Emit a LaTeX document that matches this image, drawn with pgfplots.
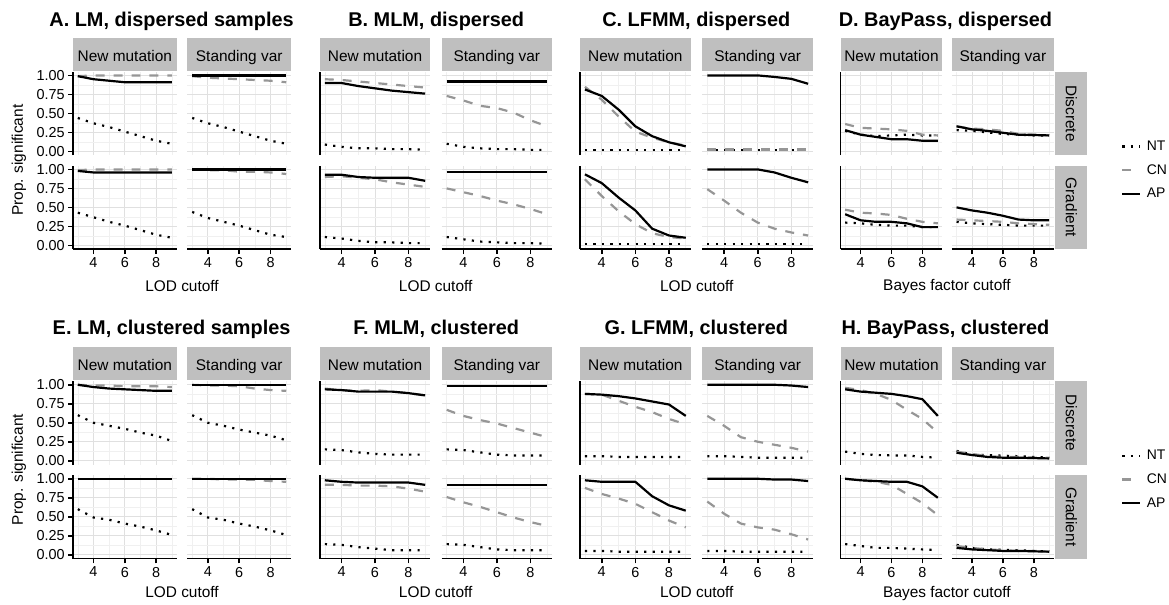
\documentclass[border=0pt]{standalone}
\usepackage{pgfplots}
\pgfplotsset{compat=1.18}
\usepackage{pgfplotstable}
\usepackage{fontspec}
\setmainfont{Liberation Sans}
\definecolor{stripgray}{RGB}{191,191,191}
\definecolor{gridmaj}{RGB}{224,224,224}
\definecolor{gridmin}{RGB}{240,240,240}
\definecolor{cngray}{RGB}{150,150,150}
\newcommand{\fs}[1]{\fontsize{#1}{#1}\selectfont}

% ---------- data: x, NT, CN, AP ----------
% A. LM, dispersed
\pgfplotstableread{
x nt cn ap
3 0.44 0.99 0.99
4 0.37 1 0.95
5 0.32 1 0.93
6 0.26 1 0.91
7 0.20 1 0.91
8 0.14 1 0.91
9 0.10 1 0.91
}\ADN
\pgfplotstableread{
x nt cn ap
3 0.44 0.99 1
4 0.37 0.97 1
5 0.32 0.96 1
6 0.26 0.95 1
7 0.20 0.94 1
8 0.14 0.93 1
9 0.10 0.91 1
}\ADS
\pgfplotstableread{
x nt cn ap
3 0.43 0.99 0.98
4 0.37 1 0.96
5 0.31 1 0.96
6 0.26 1 0.96
7 0.20 1 0.96
8 0.14 1 0.96
9 0.10 1 0.96
}\AGN
\pgfplotstableread{
x nt cn ap
3 0.44 1 1
4 0.36 0.99 1
5 0.31 0.99 1
6 0.26 0.97 1
7 0.20 0.97 1
8 0.14 0.96 1
9 0.11 0.94 1
}\AGS
% B. MLM, dispersed
\pgfplotstableread{
x nt cn ap
3 0.09 0.95 0.90
4 0.06 0.94 0.90
5 0.04 0.92 0.86
6 0.04 0.90 0.83
7 0.03 0.88 0.80
8 0.03 0.86 0.78
9 0.02 0.84 0.76
}\BDN
\pgfplotstableread{
x nt cn ap
3 0.10 0.73 0.92
4 0.06 0.67 0.92
5 0.04 0.60 0.92
6 0.03 0.57 0.92
7 0.03 0.51 0.92
8 0.02 0.41 0.92
9 0.02 0.33 0.92
}\BDS
\pgfplotstableread{
x nt cn ap
3 0.11 0.90 0.93
4 0.09 0.91 0.93
5 0.06 0.89 0.90
6 0.04 0.87 0.89
7 0.04 0.83 0.89
8 0.03 0.80 0.89
9 0.03 0.77 0.85
}\BGN
\pgfplotstableread{
x nt cn ap
3 0.11 0.75 0.97
4 0.08 0.70 0.97
5 0.05 0.65 0.97
6 0.04 0.59 0.97
7 0.03 0.54 0.97
8 0.03 0.48 0.97
9 0.02 0.41 0.97
}\BGS
% C. LFMM, dispersed
\pgfplotstableread{
x nt cn ap
3 0.02 0.85 0.815
4 0.02 0.68 0.73
5 0.02 0.46 0.55
6 0.02 0.26 0.33
7 0.02 0.18 0.20
8 0.02 0.12 0.12
9 0.02 0.075 0.066
}\CDN
\pgfplotstableread{
x nt cn ap
3 0.015 0.025 1
4 0.015 0.025 1
5 0.015 0.025 1
6 0.015 0.025 1
7 0.015 0.025 0.98
8 0.015 0.025 0.955
9 0.015 0.025 0.89
}\CDS
\pgfplotstableread{
x nt cn ap
3 0.02 0.87 0.935
4 0.02 0.65 0.82
5 0.02 0.45 0.63
6 0.02 0.28 0.46
7 0.02 0.16 0.22
8 0.02 0.11 0.13
9 0.02 0.09 0.10
}\CGN
\pgfplotstableread{
x nt cn ap
3 0.02 0.74 1
4 0.02 0.59 1
5 0.02 0.43 1
6 0.02 0.30 1
7 0.02 0.22 0.96
8 0.02 0.17 0.89
9 0.02 0.13 0.83
}\CGS
% D. BayPass, dispersed
\pgfplotstableread{
x nt cn ap
3 0.27 0.36 0.28
4 0.22 0.31 0.22
5 0.20 0.30 0.19
6 0.21 0.29 0.16
7 0.22 0.27 0.16
8 0.21 0.22 0.14
9 0.21 0.21 0.14
}\DDN
\pgfplotstableread{
x nt cn ap
3 0.28 0.33 0.33
4 0.27 0.30 0.29
5 0.25 0.29 0.27
6 0.23 0.27 0.245
7 0.22 0.23 0.22
8 0.21 0.22 0.215
9 0.21 0.21 0.21
}\DDS
\pgfplotstableread{
x nt cn ap
3 0.30 0.47 0.41
4 0.29 0.43 0.33
5 0.27 0.42 0.31
6 0.26 0.40 0.31
7 0.26 0.35 0.29
8 0.24 0.31 0.24
9 0.24 0.29 0.24
}\DGN
\pgfplotstableread{
x nt cn ap
3 0.31 0.34 0.50
4 0.29 0.33 0.46
5 0.28 0.32 0.43
6 0.27 0.31 0.39
7 0.26 0.29 0.34
8 0.26 0.28 0.33
9 0.26 0.27 0.33
}\DGS
% E. LM, clustered
\pgfplotstableread{
x nt cn ap
3 0.60 1 1
4 0.50 0.99 0.97
5 0.46 0.99 0.95
6 0.42 0.98 0.94
7 0.37 0.98 0.93
8 0.33 0.98 0.92
9 0.26 0.97 0.92
}\EDN
\pgfplotstableread{
x nt cn ap
3 0.60 1 1
4 0.50 0.99 1
5 0.46 0.99 1
6 0.41 0.98 1
7 0.37 0.95 1
8 0.33 0.93 1
9 0.27 0.92 1
}\EDS
\pgfplotstableread{
x nt cn ap
3 0.60 1 1
4 0.49 1 1
5 0.46 1 1
6 0.41 1 1
7 0.37 1 1
8 0.32 1 1
9 0.26 1 1
}\EGN
\pgfplotstableread{
x nt cn ap
3 0.60 1 1
4 0.49 1 1
5 0.46 0.99 1
6 0.41 0.99 1
7 0.37 0.985 1
8 0.32 0.97 1
9 0.26 0.96 1
}\EGS
% F. MLM, clustered
\pgfplotstableread{
x nt cn ap
3 0.15 0.95 0.94
4 0.14 0.93 0.93
5 0.11 0.92 0.91
6 0.09 0.93 0.91
7 0.08 0.91 0.91
8 0.08 0.89 0.89
9 0.08 0.86 0.86
}\FDN
\pgfplotstableread{
x nt cn ap
3 0.15 0.67 0.98
4 0.14 0.59 0.98
5 0.11 0.535 0.98
6 0.08 0.49 0.98
7 0.07 0.43 0.98
8 0.07 0.37 0.98
9 0.07 0.31 0.98
}\FDS
\pgfplotstableread{
x nt cn ap
3 0.14 0.92 0.98
4 0.13 0.92 0.96
5 0.10 0.91 0.95
6 0.08 0.91 0.95
7 0.06 0.90 0.95
8 0.06 0.87 0.95
9 0.06 0.83 0.92
}\FGN
\pgfplotstableread{
x nt cn ap
3 0.14 0.76 0.92
4 0.13 0.69 0.92
5 0.10 0.63 0.92
6 0.07 0.56 0.92
7 0.06 0.49 0.92
8 0.06 0.43 0.92
9 0.06 0.38 0.92
}\FGS
% G. LFMM, clustered
\pgfplotstableread{
x nt cn ap
3 0.06 0.88 0.88
4 0.06 0.87 0.87
5 0.05 0.79 0.85
6 0.05 0.71 0.82
7 0.05 0.64 0.78
8 0.05 0.55 0.74
9 0.05 0.48 0.59
}\GDN
\pgfplotstableread{
x nt cn ap
3 0.06 0.59 1
4 0.06 0.46 1
5 0.05 0.31 1
6 0.04 0.25 1
7 0.04 0.21 1
8 0.04 0.17 0.99
9 0.04 0.12 0.97
}\GDS
\pgfplotstableread{
x nt cn ap
3 0.05 0.88 0.98
4 0.05 0.80 0.96
5 0.04 0.74 0.96
6 0.04 0.67 0.96
7 0.04 0.56 0.77
8 0.04 0.45 0.65
9 0.04 0.36 0.58
}\GGN
\pgfplotstableread{
x nt cn ap
3 0.05 0.70 1
4 0.05 0.54 1
5 0.04 0.41 1
6 0.04 0.36 1
7 0.04 0.33 0.99
8 0.04 0.27 0.99
9 0.04 0.20 0.97
}\GGS
% H. BayPass, clustered
\pgfplotstableread{
x nt cn ap
3 0.12 0.96 0.94
4 0.09 0.93 0.91
5 0.075 0.88 0.895
6 0.07 0.80 0.88
7 0.07 0.67 0.85
8 0.05 0.55 0.81
9 0.04 0.37 0.59
}\HDN
\pgfplotstableread{
x nt cn ap
3 0.13 0.12 0.105
4 0.08 0.09 0.075
5 0.075 0.06 0.05
6 0.066 0.05 0.04
7 0.06 0.05 0.04
8 0.05 0.04 0.035
9 0.04 0.04 0.03
}\HDS
\pgfplotstableread{
x nt cn ap
3 0.14 1 1
4 0.115 0.98 0.98
5 0.09 0.96 0.97
6 0.09 0.92 0.96
7 0.08 0.80 0.96
8 0.07 0.68 0.90
9 0.06 0.52 0.75
}\HGN
\pgfplotstableread{
x nt cn ap
3 0.13 0.115 0.09
4 0.09 0.09 0.07
5 0.07 0.07 0.06
6 0.065 0.06 0.05
7 0.06 0.05 0.05
8 0.05 0.05 0.045
9 0.045 0.04 0.04
}\HGS

\pgfplotsset{
  nt/.style={black, line width=2.2pt, dash pattern=on 2.2pt off 6.3pt},
  cn/.style={cngray, line width=2.2pt, dash pattern=on 9pt off 9pt},
  ap/.style={black, line width=2.2pt, line join=round},
  facet/.style={scale only axis, height=84pt, anchor=north west,
    xmin=2.7, xmax=9.3, ymin=-0.05, ymax=1.05,
    xtick={4,6,8}, minor xtick={3,5,7,9},
    ytick={0,0.25,0.5,0.75,1}, minor ytick={0.125,0.375,0.625,0.875},
    grid=both,
    major grid style={draw=gridmaj, line width=0.8pt},
    minor grid style={draw=gridmin, line width=0.6pt},
    axis x line*=bottom, axis y line*=left,
    x axis line style={draw=none,-}, y axis line style={draw=none,-},
    xtick pos=left, ytick pos=left,
    xtick style={draw=none}, ytick style={draw=none},
    xticklabels={}, yticklabels={},
    minor tick length=0pt, major tick length=5pt, tick align=outside,
    tick label style={font=\fs{14.5}, text=black},
  },
  leftax/.style={y axis line style={draw=black, line width=1.6pt}},
  bottomax/.style={x axis line style={draw=black, line width=1.6pt},
     xtick style={draw=black, line width=1.6pt}, xticklabels={4,6,8}},
  yticks/.style={ytick style={draw=black, line width=1.6pt},
     yticklabels={0.00,0.25,0.50,0.75,1.00}},
  noyt/.style={},
  legopts/.style={legend entries={NT,CN,AP}, legend cell align=left,
     legend style={at={(1.66,#1)}, anchor=west, draw=none, fill=none,
        inner sep=0pt, font=\fs{14}, row sep=8.5pt, column sep=3.5pt},
     legend image code/.code={\draw[##1] (0pt,0pt) -- (18pt,0pt);}},
}

\newcommand{\facet}[5]{%
  \begin{axis}[facet, at={({(#1)*1pt},{-(#2)*1pt})}, width=#3pt, #4]
    \addplot[nt] table[x=x,y=nt]{#5};
    \addplot[cn] table[x=x,y=cn]{#5};
    \addplot[ap] table[x=x,y=ap]{#5};
  \end{axis}}

% #1-#4 tables, #5 x col1, #6 x col2, #7 width, #8 y offset, #9 y tick style
\newcommand{\panel}[9]{%
  \facet{#5}{72+#8}{#7}{leftax,#9}{#1}
  \facet{#6}{72+#8}{#7}{}{#2}
  \facet{#5}{166.5+#8}{#7}{leftax,bottomax,#9}{#3}
  \facet{#6}{166.5+#8}{#7}{bottomax}{#4}}

\newcommand{\strip}[4]{%
  \fill[stripgray] (#1,#2) rectangle ({#1+#3},{#2+33});
  \node[anchor=base, font=\fs{15.5}, inner sep=0pt] at ({#1+#3/2},{#2+23.5}) {#4};}
\newcommand{\rstrip}[2]{%
  \fill[stripgray] (1061,#1) rectangle (1093,{#1+84});
  \node[rotate=-90, font=\fs{15.5}, inner sep=0pt] at (1077,{#1+42}) {#2};}

\begin{document}
\begin{tikzpicture}

% ---------------- top row ----------------
\panel{\ADN}{\ADS}{\AGN}{\AGS}{73.5}{188.5}{104}{0}{yticks}
\panel{\BDN}{\BDS}{\BGN}{\BGS}{321.5}{444}{111}{0}{noyt}
\panel{\CDN}{\CDS}{\CGN}{\CGS}{583}{706}{111.5}{0}{noyt}
\facet{845}{72}{102.5}{leftax}{\DDN}
\facet{957}{72}{102.5}{legopts=-0.179}{\DDS}
\facet{845}{166.5}{102.5}{leftax,bottomax}{\DGN}
\facet{957}{166.5}{102.5}{bottomax}{\DGS}

% ---------------- bottom row ----------------
\panel{\EDN}{\EDS}{\EGN}{\EGS}{73.5}{188.5}{104}{311}{yticks}
\panel{\FDN}{\FDS}{\FGN}{\FGS}{321.5}{444}{111}{311}{noyt}
\panel{\GDN}{\GDS}{\GGN}{\GGS}{583}{706}{111.5}{311}{noyt}
\facet{845}{383}{102.5}{leftax}{\HDN}
\facet{957}{383}{102.5}{legopts=-0.179}{\HDS}
\facet{845}{477.5}{102.5}{leftax,bottomax}{\HGN}
\facet{957}{477.5}{102.5}{bottomax}{\HGS}

\begin{scope}[x=1pt, y=-1pt]
\path[use as bounding box] (0,0) rectangle (1169,608);
% strips
\foreach \yy in {38,349}{
  \strip{73.5}{\yy}{104}{New mutation}
  \strip{188.5}{\yy}{104}{Standing var}
  \strip{321.5}{\yy}{111}{New mutation}
  \strip{444}{\yy}{111}{Standing var}
  \strip{583}{\yy}{111.5}{New mutation}
  \strip{706}{\yy}{111.5}{Standing var}
  \strip{845}{\yy}{102.5}{New mutation}
  \strip{957}{\yy}{102.5}{Standing var}
}
\rstrip{72}{Discrete}
\rstrip{166.5}{Gradient}
\rstrip{383}{Discrete}
\rstrip{477.5}{Gradient}

% titles
\begin{scope}[every node/.style={anchor=base, font=\bfseries\fs{20}, inner sep=0pt}]
\node at (172.5,26.5) {A. LM, dispersed samples};
\node at (438.5,26.5) {B. MLM, dispersed};
\node at (700,26.5) {C. LFMM, dispersed};
\node at (950.5,26.5) {D. BayPass, dispersed};
\node at (172.5,336) {E. LM, clustered samples};
\node at (438.5,336) {F. MLM, clustered};
\node at (700,336) {G. LFMM, clustered};
\node at (950.5,336) {H. BayPass, clustered};
\end{scope}

% axis titles
\begin{scope}[every node/.style={font=\fs{15.5}, inner sep=0pt}]
\node[rotate=90] at (19,161) {Prop. significant};
\node[rotate=90] at (19,472) {Prop. significant};
\node[anchor=base] at (183,293) {LOD cutoff};
\node[anchor=base] at (438,293) {LOD cutoff};
\node[anchor=base] at (700.5,293) {LOD cutoff};
\node[anchor=base] at (952,292.5) {Bayes factor cutoff};
\node[anchor=base] at (183,601) {LOD cutoff};
\node[anchor=base] at (438,601) {LOD cutoff};
\node[anchor=base] at (700.5,601) {LOD cutoff};
\node[anchor=base] at (952,600.5) {Bayes factor cutoff};
\end{scope}
\end{scope}
\end{tikzpicture}
\end{document}
